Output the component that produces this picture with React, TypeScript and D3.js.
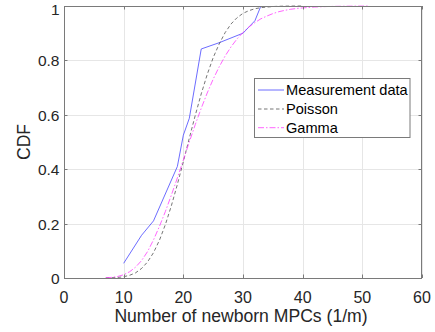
import React from "react";
import * as d3 from "d3";

const measX = [10, 13, 15, 19, 20, 21, 23, 26, 30, 32, 33];
const measY = [0.054, 0.157, 0.21, 0.41, 0.525, 0.587, 0.842, 0.865, 0.9, 0.946, 1.0];

const poisX = [7, 8, 9, 10, 11, 12, 13, 14, 15, 16, 17, 18, 19, 20, 21, 22, 23, 24, 25, 26, 27, 28, 29, 30, 31, 32, 33, 34, 35, 36, 37, 38, 39, 40];
const poisY = [0.0003, 0.0008, 0.002, 0.0047, 0.01, 0.019, 0.035, 0.059, 0.093, 0.139, 0.197, 0.266, 0.344, 0.428, 0.514, 0.598, 0.677, 0.748, 0.81, 0.86, 0.902, 0.934, 0.957, 0.973, 0.983, 0.99, 0.994, 0.996, 0.998, 0.999, 0.9995, 0.9997, 0.9999, 1.0];

const gamX = [7, 8, 9, 10, 11, 12, 13, 14, 15, 16, 17, 18, 19, 20, 21, 22, 23, 24, 25, 26, 27, 28, 29, 30, 31, 32, 33, 34, 35, 36, 37, 38, 39, 40, 42, 44, 46, 48, 51];
const gamY = [0.0008, 0.0023, 0.0056, 0.012, 0.023, 0.04, 0.064, 0.097, 0.14, 0.19, 0.245, 0.305, 0.368, 0.434, 0.5, 0.564, 0.624, 0.68, 0.731, 0.776, 0.816, 0.85, 0.879, 0.903, 0.923, 0.939, 0.953, 0.963, 0.972, 0.979, 0.984, 0.988, 0.991, 0.993, 0.9962, 0.998, 0.9989, 0.9994, 0.9998];

const xTicks = [0, 10, 20, 30, 40, 50, 60];
const yTicks = [0, 0.2, 0.4, 0.6, 0.8, 1];
const yTickLabels = ["0", "0.2", "0.4", "0.6", "0.8", "1"];
const legendLabels = ["Measurement data", "Poisson", "Gamma"];

const W = 435;
const H = 332;
const L = 64, R = 422, T = 6, B = 278;
const FONT = "Liberation Sans, Arial, Helvetica, sans-serif";

export default function App() {
  const x = d3.scaleLinear().domain([0, 60]).range([L, R]);
  const y = d3.scaleLinear().domain([0, 1]).range([B, T]);
  const line = d3.line<[number, number]>().x((d) => x(d[0])).y((d) => y(d[1]));
  const meas = measX.map((v, i) => [v, measY[i]] as [number, number]);
  const pois = poisX.map((v, i) => [v, poisY[i]] as [number, number]);
  const gam = gamX.map((v, i) => [v, gamY[i]] as [number, number]);

  const styles = [
    { stroke: "#4646ff", dash: undefined as string | undefined, w: 0.8 },
    { stroke: "#3a3a3a", dash: "3.5,2.5", w: 0.7 },
    { stroke: "#ff3dff", dash: "6,2,1.5,2", w: 0.8 },
  ];

  const lgX = 254.5, lgY = 78.5, lgW = 155.5, lgH = 59;
  const rowYs = [90, 109, 127.7];

  return (
    <svg width={W} height={H} style={{ position: "absolute", left: 0, top: 0, background: "#fff" }} fontFamily={FONT}>
      <rect x={0} y={0} width={W} height={H} fill="#fff" />
      {xTicks.map((t) => (
        <line key={"gx" + t} x1={Math.round(x(t)) + 0.5} x2={Math.round(x(t)) + 0.5} y1={T} y2={B} stroke="#e6e6e6" strokeWidth={1} />
      ))}
      {yTicks.map((t) => (
        <line key={"gy" + t} x1={L} x2={R} y1={Math.round(y(t)) + 0.5} y2={Math.round(y(t)) + 0.5} stroke="#e6e6e6" strokeWidth={1} />
      ))}
      <path d={line(meas) || ""} fill="none" stroke={styles[0].stroke} strokeWidth={styles[0].w} />
      <path d={line(pois) || ""} fill="none" stroke={styles[1].stroke} strokeWidth={styles[1].w} strokeDasharray={styles[1].dash} />
      <path d={line(gam) || ""} fill="none" stroke={styles[2].stroke} strokeWidth={styles[2].w} strokeDasharray={styles[2].dash} />
      <rect x={L + 0.5} y={T + 0.5} width={R - L - 1} height={B - T} fill="none" stroke="#7a7a7a" strokeWidth={1} />
      {xTicks.map((t) => (
        <g key={"tx" + t}>
          <line x1={Math.round(x(t)) + 0.5} x2={Math.round(x(t)) + 0.5} y1={B} y2={B - 3.5} stroke="#7a7a7a" />
          <line x1={Math.round(x(t)) + 0.5} x2={Math.round(x(t)) + 0.5} y1={T} y2={T + 3.5} stroke="#7a7a7a" />
          <text x={x(t)} y={303} textAnchor="middle" fontSize={16} fill="#262626">{t}</text>
        </g>
      ))}
      {yTicks.map((t, i) => (
        <g key={"ty" + t}>
          <line x1={L} x2={L + 3.5} y1={Math.round(y(t)) + 0.5} y2={Math.round(y(t)) + 0.5} stroke="#7a7a7a" />
          <line x1={R} x2={R - 3.5} y1={Math.round(y(t)) + 0.5} y2={Math.round(y(t)) + 0.5} stroke="#7a7a7a" />
          <text x={59.5} y={Math.max(y(t) + 6, 14.5)} textAnchor="end" fontSize={15.5} fill="#262626">{yTickLabels[i]}</text>
        </g>
      ))}
      <text x={(L + R) / 2 - 2} y={322} textAnchor="middle" fontSize={17.6} fill="#262626">Number of newborn MPCs (1/m)</text>
      <text transform={`translate(29.5, ${(T + B) / 2}) rotate(-90)`} textAnchor="middle" fontSize={17.6} fill="#262626">CDF</text>
      <rect x={lgX} y={lgY} width={lgW} height={lgH} fill="#fff" stroke="#7a7a7a" strokeWidth={1} />
      {legendLabels.map((lab, i) => (
        <g key={lab}>
          <line x1={258} x2={284} y1={rowYs[i]} y2={rowYs[i]} stroke={styles[i].stroke} strokeWidth={styles[i].w} strokeDasharray={styles[i].dash} />
          <text x={286} y={rowYs[i] + 5} fontSize={14.6} fill="#000">{lab}</text>
        </g>
      ))}
    </svg>
  );
}
